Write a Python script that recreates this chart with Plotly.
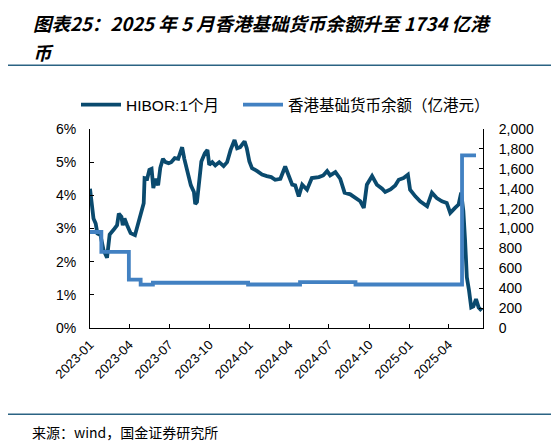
import plotly.graph_objects as go

# HIBOR 1个月 (%)
hibor_dates = [
    "2023-01-01", "2023-01-03", "2023-01-06", "2023-01-09", "2023-01-14", "2023-01-18",
    "2023-01-25", "2023-02-01", "2023-02-09", "2023-02-15", "2023-02-24", "2023-03-04",
    "2023-03-08", "2023-03-14", "2023-03-17", "2023-03-21", "2023-03-27", "2023-04-04",
    "2023-04-14", "2023-04-23", "2023-04-29", "2023-05-04", "2023-05-06", "2023-05-12",
    "2023-05-17", "2023-05-22", "2023-05-26", "2023-05-31", "2023-06-06", "2023-06-11",
    "2023-06-17", "2023-06-23", "2023-06-30", "2023-07-06", "2023-07-14", "2023-07-22",
    "2023-07-27", "2023-07-31", "2023-08-05", "2023-08-10", "2023-08-14", "2023-08-20",
    "2023-08-27", "2023-08-30", "2023-09-03", "2023-09-07", "2023-09-13", "2023-09-21",
    "2023-09-27", "2023-10-01", "2023-10-08", "2023-10-15", "2023-10-24", "2023-11-03",
    "2023-11-11", "2023-11-19", "2023-11-28", "2023-12-04", "2023-12-11", "2023-12-21",
    "2023-12-26", "2024-01-01", "2024-01-07", "2024-01-19", "2024-01-30", "2024-02-10",
    "2024-02-20", "2024-02-29", "2024-03-12", "2024-03-23", "2024-03-31", "2024-04-08",
    "2024-04-15", "2024-04-23", "2024-05-01", "2024-05-12", "2024-05-23", "2024-06-08",
    "2024-06-18", "2024-06-27", "2024-07-04", "2024-07-16", "2024-07-27", "2024-08-06",
    "2024-08-19", "2024-08-31", "2024-09-11", "2024-09-19", "2024-09-26", "2024-10-08",
    "2024-10-19", "2024-10-31", "2024-11-07", "2024-11-19", "2024-11-30", "2024-12-08",
    "2024-12-19", "2024-12-29", "2025-01-03", "2025-01-15", "2025-01-26", "2025-02-11",
    "2025-02-22", "2025-03-05", "2025-03-17", "2025-03-28", "2025-04-05", "2025-04-16",
    "2025-04-24", "2025-04-30", "2025-05-05", "2025-05-09", "2025-05-13", "2025-05-18",
    "2025-05-23", "2025-05-28", "2025-06-03", "2025-06-09", "2025-06-16",
]
hibor_vals = [
    4.20, 3.90, 3.50, 3.30, 3.15, 2.85,
    2.80, 2.35, 2.12, 2.82, 2.96, 3.10,
    3.45, 3.35, 3.10, 3.30, 3.10, 2.86,
    2.80, 3.20, 3.50, 3.76, 4.52, 4.50,
    4.77, 4.80, 4.22, 4.50, 4.30, 4.83,
    5.10, 5.00, 4.97, 5.00, 5.12, 5.10,
    5.30, 5.45, 5.10, 4.85, 4.60, 4.30,
    4.10, 3.74, 3.80, 4.32, 5.02, 5.27,
    5.37, 4.92, 5.00, 4.90, 5.00, 4.88,
    5.00, 5.37, 5.67, 5.42, 5.45, 5.63,
    5.42, 5.02, 4.82, 4.73, 4.63, 4.58,
    4.55, 4.47, 4.50, 4.87, 4.58, 4.32,
    4.30, 3.97, 4.32, 4.17, 4.52, 4.55,
    4.60, 4.73, 4.60, 4.70, 4.50, 4.08,
    4.03, 3.92, 3.82, 3.62, 4.32, 4.58,
    4.32, 4.20, 4.10, 4.18, 4.30, 4.47,
    4.52, 4.62, 4.17, 3.97, 3.82, 3.67,
    4.08, 3.92, 3.82, 3.77, 3.47, 3.62,
    3.72, 4.08, 3.52, 2.63, 1.53, 1.13,
    0.62, 0.65, 0.87, 0.62, 0.52,
]

# 香港基础货币余额 (亿港元), step changes
bal_dates = ["2023-01-01", "2023-01-27", "2023-03-31", "2023-04-27", "2023-05-25",
             "2023-12-29", "2024-04-26", "2024-08-31", "2025-05-02", "2025-06-03"]
bal_vals = [965, 765, 487, 435, 455, 437, 462, 437, 1734, 1734]

x_range = ["2023-01-01", "2025-06-19"]

# the page body has an 8px margin, so the figure is drawn 8px smaller
# and positions below are given in window pixels
OFF = 8
W, H = 559 - OFF, 446 - OFF
AX_L, AX_R, AX_T, AX_B = 90, 483, 129, 328.5
pw, ph = AX_R - AX_L, AX_B - AX_T


def px(x):
    return (x - AX_L) / pw


def py(y):
    return (AX_B - y) / ph


def cx(x):
    return (x - OFF) / W


def cy(y):
    return 1 - (y - OFF) / H


dark = "#0A4A6E"
light = "#4281C2"
rule = "#2B6383"

fig = go.Figure()
fig.add_trace(go.Scatter(x=hibor_dates, y=hibor_vals, name="HIBOR:1个月",
                         mode="lines", line=dict(color=dark, width=3.8),
                         legend="legend"))
fig.add_trace(go.Scatter(x=bal_dates, y=bal_vals, name="香港基础货币余额（亿港元）",
                         mode="lines", line=dict(color=light, width=3.8, shape="hv"),
                         yaxis="y2", legend="legend2"))

tick_font = dict(family="Liberation Sans, Arial", size=14, color="#000000")
legend_font = dict(family="Liberation Sans, Noto Sans CJK SC", size=15.5, color="#000000")

fig.update_layout(
    width=W, height=H,
    margin=dict(l=AX_L - OFF, r=559 - AX_R, t=AX_T - OFF, b=446 - AX_B, pad=0,
                autoexpand=False),
    paper_bgcolor="white", plot_bgcolor="white",
    showlegend=True,
    legend=dict(xref="container", yref="container", x=cx(76), y=cy(105),
                xanchor="left", yanchor="middle", font=legend_font, itemwidth=40),
    legend2=dict(xref="container", yref="container", x=cx(238), y=cy(105),
                 xanchor="left", yanchor="middle", font=legend_font, itemwidth=40),
    xaxis=dict(type="date", range=x_range, tickformat="%Y-%m", dtick="M3",
               tick0="2023-01-01", tickangle=-45, showgrid=False, zeroline=False,
               showline=True, linecolor="#000000", linewidth=1,
               ticks="inside", ticklen=4, tickcolor="#000000", ticklabelstandoff=3,
               tickfont=dict(family="Liberation Sans, Arial", size=13, color="#000000")),
    yaxis=dict(range=[0, 6], dtick=1, ticksuffix="%", showgrid=False, zeroline=False,
               showline=True, linecolor="#000000", linewidth=1,
               ticks="inside", ticklen=4, tickcolor="#000000", ticklabelstandoff=10,
               tickfont=tick_font),
    yaxis2=dict(range=[0, 2000], dtick=200, tickformat=",d", overlaying="y", side="right",
                showgrid=False, zeroline=False, showline=True, linecolor="#000000",
                linewidth=1, ticks="inside", ticklen=4, tickcolor="#000000",
                ticklabelstandoff=12, tickfont=tick_font),
)

title_font = dict(family="Noto Sans CJK SC", size=18.5, color="#000000")
fig.add_annotation(text="<b><i>图表25：2025 年 5 月香港基础货币余额升至 1734 亿港</i></b>",
                   xref="paper", yref="paper", x=px(32), y=py(8.5), xanchor="left",
                   yanchor="top", showarrow=False, font=title_font, borderpad=0)
fig.add_annotation(text="<b><i>币</i></b>", xref="paper", yref="paper",
                   x=px(32), y=py(37.5), xanchor="left", yanchor="top",
                   showarrow=False, font=title_font, borderpad=0)
fig.add_annotation(text="来源：wind，国金证券研究所", xref="paper", yref="paper",
                   x=px(30), y=py(433), xanchor="left", yanchor="middle", showarrow=False,
                   font=dict(family="Noto Sans CJK SC", size=14, color="#000000"))

for yy in (65, 415):
    fig.add_shape(type="line", xref="paper", yref="paper", x0=px(8), x1=px(554),
                  y0=py(yy), y1=py(yy), line=dict(color=rule, width=1.5))

fig.write_html("out.html")
